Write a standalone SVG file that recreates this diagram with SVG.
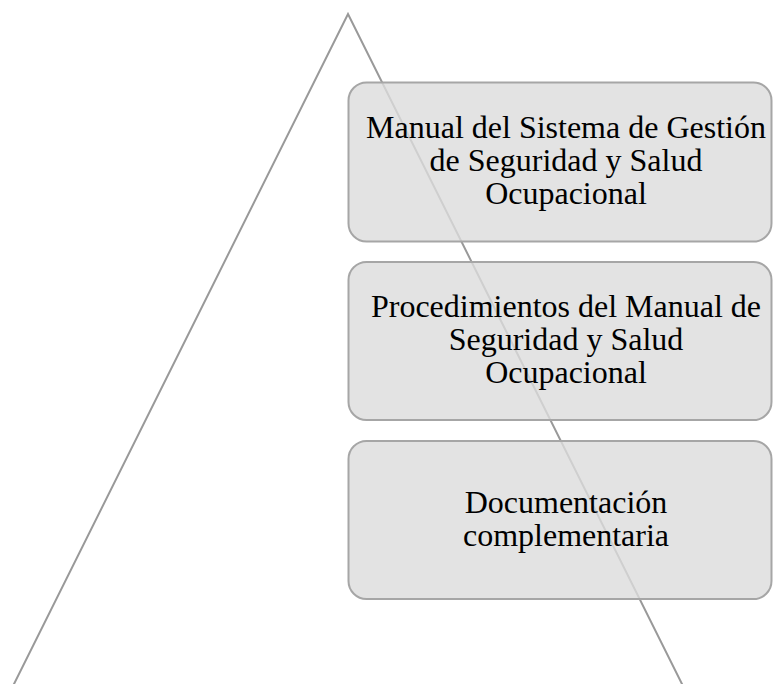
<svg xmlns="http://www.w3.org/2000/svg" width="773" height="684" viewBox="0 0 773 684">
<style>
.tri{fill:none;stroke:#999999;stroke-width:2}
.box{fill:#dcdcdc;fill-opacity:0.8;stroke:#a6a6a6;stroke-width:2}
.lbl{font-family:"Liberation Serif","Times New Roman",serif;font-size:32px;fill:#000000;text-anchor:middle}
</style>
<rect x="0" y="0" width="773" height="684" fill="#ffffff"/>
<g id="triangle">
<path class="tri" d="M13,686 L348,14 L683,686"/>
</g>
<g id="node1">
<rect class="box" x="348.5" y="82.5" width="423" height="159" rx="18" ry="18"/>
<text class="lbl" x="566" y="138">Manual del Sistema de Gestión</text>
<text class="lbl" x="566" y="171">de Seguridad y Salud</text>
<text class="lbl" x="566" y="204">Ocupacional</text>
</g>
<g id="node2">
<rect class="box" x="348.5" y="262" width="423" height="158" rx="18" ry="18"/>
<text class="lbl" x="566" y="317">Procedimientos del Manual de</text>
<text class="lbl" x="566" y="350">Seguridad y Salud</text>
<text class="lbl" x="566" y="383">Ocupacional</text>
</g>
<g id="node3">
<rect class="box" x="348.5" y="441" width="423" height="158" rx="18" ry="18"/>
<text class="lbl" x="566" y="513">Documentación</text>
<text class="lbl" x="566" y="546">complementaria</text>
</g>
<g id="connectors"></g>
</svg>
